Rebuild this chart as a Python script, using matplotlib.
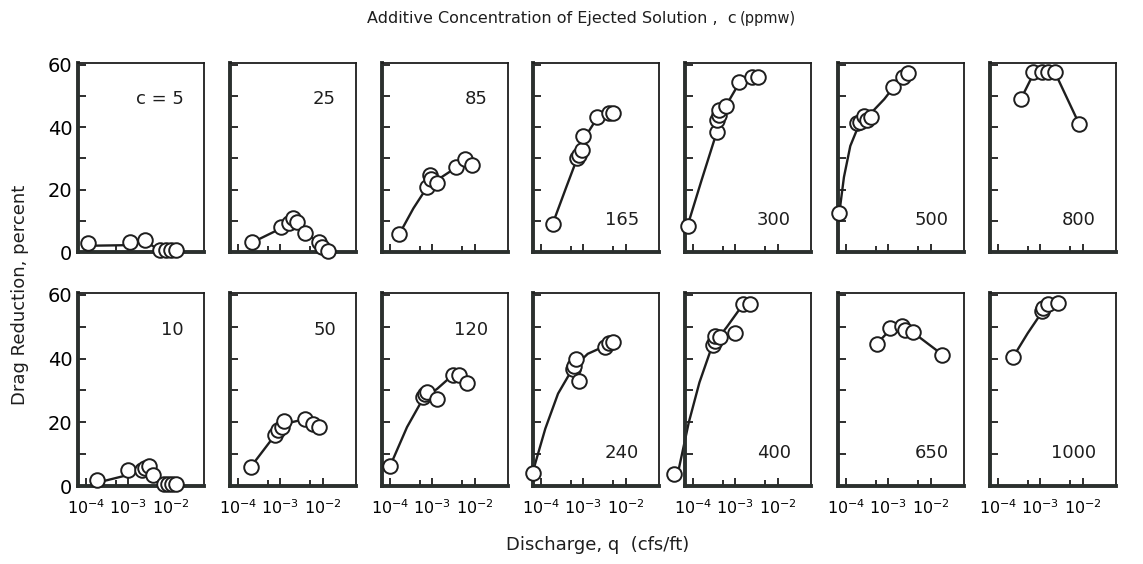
import numpy as np
import matplotlib
matplotlib.use("Agg")
import matplotlib.pyplot as plt
from matplotlib.ticker import FixedLocator, NullFormatter

# additive concentration of ejected solution (ppmw); top row, then bottom row
conc_top = [5, 25, 85, 165, 300, 500, 800]
conc_bot = [10, 50, 120, 240, 400, 650, 1000]

# measured points: log10 of discharge q (cfs/ft), drag reduction (percent)
logq_5 = [-3.95, -2.96, -2.61, -2.25, -2.12, -2.0, -1.88]
dr_5 = [2.8, 3.1, 4.0, 0.5, 0.5, 0.5, 0.5]
logq_25 = [-3.66, -2.99, -2.79, -2.70, -2.60, -2.42, -2.09, -2.03, -1.88]
dr_25 = [3.1, 8.1, 9.4, 10.8, 9.7, 6.2, 3.3, 1.7, 0.4]
logq_85 = [-3.78, -3.14, -3.06, -3.04, -2.90, -2.45, -2.24, -2.08]
dr_85 = [5.8, 21.0, 24.7, 23.3, 22.0, 27.2, 29.7, 27.9]
logq_165 = [-3.73, -3.16, -3.10, -3.04, -3.0, -2.67, -2.39, -2.31]
dr_165 = [8.9, 30.1, 31.1, 32.7, 37.2, 43.2, 44.5, 44.7]
logq_300 = [-4.13, -3.44, -3.43, -3.40, -3.38, -3.22, -2.92, -2.62, -2.48]
dr_300 = [8.4, 38.4, 42.3, 44.0, 45.6, 46.9, 54.4, 56.2, 56.2]
logq_500 = [-4.16, -3.75, -3.67, -3.58, -3.51, -3.41, -2.90, -2.65, -2.53]
dr_500 = [12.4, 41.5, 41.8, 43.6, 42.3, 43.2, 53.0, 56.2, 57.3]
logq_800 = [-3.46, -3.17, -2.97, -2.82, -2.66, -2.09]
dr_800 = [49.1, 57.6, 57.6, 57.6, 57.6, 41.1]
logq_10 = [-3.75, -3.0, -2.69, -2.61, -2.51, -2.42, -2.17, -2.08, -1.98, -1.88]
dr_10 = [1.9, 5.0, 5.0, 5.5, 6.25, 3.4, 0.6, 0.6, 0.6, 0.6]
logq_50 = [-3.70, -3.13, -3.05, -2.97, -2.91, -2.42, -2.23, -2.09]
dr_50 = [6.0, 15.9, 17.5, 18.5, 20.3, 21.1, 19.6, 18.5]
logq_120 = [-4.0, -3.22, -3.18, -3.12, -2.89, -2.51, -2.37, -2.18]
dr_120 = [6.25, 27.9, 29.0, 29.5, 27.4, 35.0, 34.7, 32.3]
logq_240 = [-4.20, -3.25, -3.22, -3.18, -3.10, -2.49, -2.39, -2.30]
dr_240 = [4.2, 36.8, 37.8, 39.9, 33.1, 43.5, 44.8, 45.1]
logq_400 = [-4.45, -3.54, -3.48, -3.48, -3.36, -3.0, -2.82, -2.66]
dr_400 = [3.75, 44.3, 45.6, 47.2, 46.7, 47.9, 57.1, 57.1]
logq_650 = [-3.28, -2.96, -2.67, -2.61, -2.42, -1.73]
dr_650 = [44.6, 49.5, 50.3, 49.0, 48.5, 41.25]
logq_1000 = [-3.64, -2.97, -2.93, -2.82, -2.58]
dr_1000 = [40.6, 54.8, 56.0, 57.3, 57.6]

# hand-drawn trend curves
fitq_5 = [-3.95, -3.0, -2.75, -2.55, -2.3, -1.88]
fitd_5 = [2.0, 2.2, 3.0, 3.0, 0.8, 0.4]
fitq_25 = [-3.66, -3.0, -2.7, -2.42, -2.05, -1.88]
fitd_25 = [3.1, 7.5, 10.5, 6.2, 2.5, 0.4]
fitq_85 = [-3.78, -3.45, -3.14, -2.9, -2.45, -2.24]
fitd_85 = [5.8, 14.0, 20.5, 23.0, 27.0, 29.5]
fitq_165 = [-3.73, -3.4, -3.15, -3.0, -2.7, -2.35]
fitd_165 = [8.9, 21.0, 30.0, 36.0, 42.5, 44.5]
fitq_300 = [-4.13, -3.8, -3.44, -3.22, -2.92, -2.55]
fitd_300 = [8.4, 23.0, 38.5, 47.0, 54.0, 56.2]
fitq_500 = [-4.16, -4.05, -3.9, -3.72, -3.45, -3.1, -2.9, -2.55]
fitd_500 = [12.4, 24.0, 34.0, 40.0, 44.0, 49.0, 52.5, 56.5]
fitq_800 = [-3.46, -3.17, -2.66, -2.09]
fitd_800 = [49.1, 57.0, 57.6, 41.1]
fitq_10 = [-3.75, -3.0, -2.55, -2.42, -2.17]
fitd_10 = [1.0, 3.5, 5.5, 3.4, 0.6]
fitq_50 = [-3.7, -3.1, -2.91, -2.42, -2.09]
fitd_50 = [6.0, 16.5, 19.5, 21.0, 18.5]
fitq_120 = [-4.0, -3.6, -3.22, -2.89, -2.51]
fitd_120 = [6.25, 18.5, 27.5, 30.5, 35.0]
fitq_240 = [-4.2, -3.9, -3.6, -3.25, -2.9, -2.4]
fitd_240 = [4.2, 18.0, 29.0, 37.0, 41.5, 44.5]
fitq_400 = [-4.35, -4.1, -3.85, -3.55, -3.2, -2.85]
fitd_400 = [4.5, 20.0, 32.5, 44.0, 50.0, 56.5]
fitq_650 = [-3.28, -3.0, -2.65, -2.4, -1.73]
fitd_650 = [44.6, 48.5, 49.5, 48.0, 41.25]
fitq_1000 = [-3.64, -3.3, -2.97, -2.6]
fitd_1000 = [40.6, 48.0, 54.5, 57.5]

points = {5: (logq_5, dr_5), 25: (logq_25, dr_25), 85: (logq_85, dr_85),
          165: (logq_165, dr_165), 300: (logq_300, dr_300), 500: (logq_500, dr_500),
          800: (logq_800, dr_800), 10: (logq_10, dr_10), 50: (logq_50, dr_50),
          120: (logq_120, dr_120), 240: (logq_240, dr_240), 400: (logq_400, dr_400),
          650: (logq_650, dr_650), 1000: (logq_1000, dr_1000)}
curves = {5: (fitq_5, fitd_5), 25: (fitq_25, fitd_25), 85: (fitq_85, fitd_85),
          165: (fitq_165, fitd_165), 300: (fitq_300, fitd_300), 500: (fitq_500, fitd_500),
          800: (fitq_800, fitd_800), 10: (fitq_10, fitd_10), 50: (fitq_50, fitd_50),
          120: (fitq_120, fitd_120), 240: (fitq_240, fitd_240), 400: (fitq_400, fitd_400),
          650: (fitq_650, fitd_650), 1000: (fitq_1000, fitd_1000)}

label_top = {5, 25, 85, 10, 50, 120}      # panel label in upper corner, else lower

W, H = 1143, 564
lefts = [78, 230, 382, 533, 685, 838, 990]
pw = 126
rows = [(conc_top, 252, 63), (conc_bot, 486, 293)]
ink = "#1e1e1e"

fig = plt.figure(figsize=(W / 100, H / 100), dpi=100)

for r, (concs, ybot, ytop) in enumerate(rows):
    for j, c in enumerate(concs):
        ax = fig.add_axes([lefts[j] / W, 1 - ybot / H, pw / W, (ybot - ytop) / H])
        ax.set_xscale("log")
        fq, fd = curves[c]
        ax.plot(10 ** np.array(fq), fd, color=ink, lw=1.7, clip_on=False, zorder=2)
        q, d = points[c]
        ax.plot(10 ** np.array(q), d, ls="none", marker="o", ms=10.5, mfc="white",
                mec=ink, mew=1.4, clip_on=False, zorder=3)

        ax.set_xlim(10 ** -4.19, 10 ** -1.22)
        ax.set_ylim(0, 60.6)
        ax.xaxis.set_major_locator(FixedLocator([1e-4, 1e-3, 1e-2]))
        ax.xaxis.set_minor_locator(FixedLocator([5e-4, 5e-3]))
        ax.xaxis.set_minor_formatter(NullFormatter())
        ax.set_yticks(range(0, 61, 10))
        if j == 0:
            ax.set_yticklabels(["0", "", "20", "", "40", "", "60"])
        else:
            ax.set_yticklabels([])
        if r == 1:
            ax.set_xticklabels([r"$10^{-4}$", r"$10^{-3}$", r"$10^{-2}$"])
        else:
            ax.set_xticklabels([])
        ax.tick_params(which="major", direction="in", length=6, width=1.3, color=ink,
                       labelsize=11.5, pad=9)
        ax.tick_params(axis="y", labelsize=14, pad=4)
        ax.tick_params(which="minor", direction="in", length=4, width=1.3, color=ink)

        for s in ["left", "bottom"]:
            ax.spines[s].set_linewidth(2.8)
            ax.spines[s].set_color("#2b302e")
        for s in ["top", "right"]:
            ax.spines[s].set_linewidth(1.3)
            ax.spines[s].set_color(ink)

        txt = "c = 5" if c == 5 else str(c)
        ypos = 0.81 if c in label_top else 0.17
        xpos = 0.88 if c in (500, 650) else 0.84
        ax.text(xpos, ypos, txt, transform=ax.transAxes, ha="right", va="center",
                fontsize=13, color=ink)

fig.text(367 / W, 1 - 18 / H, "Additive Concentration of Ejected Solution ,  c",
         ha="left", va="center", fontsize=11.5, color=ink)
fig.text(796 / W, 1 - 18 / H, "(ppmw)", ha="right", va="center", fontsize=10.5, color=ink)
fig.text(20 / W, 1 - 295 / H, "Drag Reduction, percent", rotation=90,
         ha="center", va="center", fontsize=13, color=ink)
fig.text(598 / W, 1 - 545 / H, "Discharge, q  (cfs/ft)", ha="center", va="center",
         fontsize=13, color=ink)

fig.savefig("out.png", dpi=100)
